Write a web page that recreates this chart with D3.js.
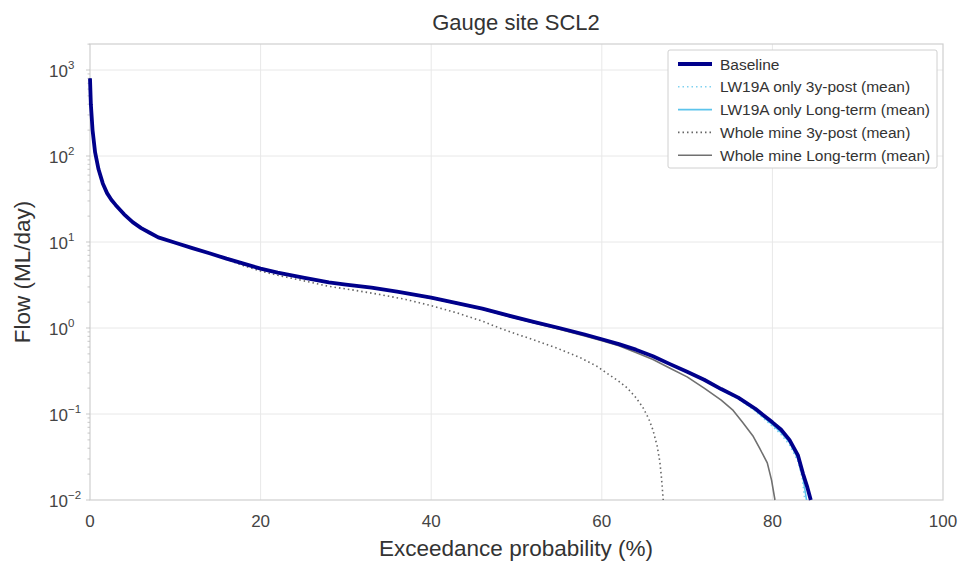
<!DOCTYPE html>
<html>
<head>
<meta charset="utf-8">
<script src="https://cdn.jsdelivr.net/npm/d3@7"></script>
<style>
    body { margin: 0; background: #fff; }
    svg { font-family: "Liberation Sans", Arial, sans-serif; }
</style>
</head>
<body>
<svg id="chart" width="963" height="562"></svg>
<script>
// exceedance probability (%) and flow (ML/day)
const baselinePct = [0, 0.1, 0.3, 0.6, 1.0, 1.5, 2.0, 2.5, 3.0, 4.0, 5.0, 6.0, 7.0, 8.0, 10, 12, 14, 16, 18, 20, 22, 25, 28, 30, 33, 36, 40, 43, 46, 49, 52, 55, 58, 60, 62, 64, 66, 68, 70, 72, 74, 76, 78, 80, 81, 82, 83, 83.6, 84.1, 84.5];
const baselineFlow = [800, 400, 200, 110, 70, 48, 37, 31, 27, 21, 17, 14.5, 12.8, 11.3, 9.8, 8.5, 7.4, 6.4, 5.6, 4.9, 4.4, 3.85, 3.4, 3.2, 2.95, 2.65, 2.25, 1.95, 1.68, 1.4, 1.18, 1.0, 0.84, 0.74, 0.65, 0.56, 0.47, 0.38, 0.31, 0.25, 0.195, 0.155, 0.115, 0.08, 0.066, 0.05, 0.033, 0.02, 0.014, 0.01];

const lw3yPct = [0, 0.1, 0.3, 0.6, 1.0, 1.5, 2.0, 2.5, 3.0, 4.0, 5.0, 6.0, 7.0, 8.0, 10, 12, 14, 16, 18, 20, 22, 25, 28, 30, 33, 36, 40, 43, 46, 49, 52, 55, 58, 60, 62, 64, 66, 68, 70, 72, 74, 76, 78, 80, 81, 82, 83, 83.5, 83.8];
const lw3yFlow = [800, 400, 200, 110, 70, 48, 37, 31, 27, 21, 17, 14.5, 12.8, 11.3, 9.8, 8.5, 7.4, 6.4, 5.6, 4.9, 4.4, 3.85, 3.4, 3.2, 2.95, 2.65, 2.25, 1.95, 1.68, 1.4, 1.18, 1.0, 0.84, 0.74, 0.65, 0.56, 0.47, 0.38, 0.31, 0.25, 0.19, 0.15, 0.108, 0.072, 0.058, 0.044, 0.028, 0.018, 0.01];

const lwLtPct = [0, 0.1, 0.3, 0.6, 1.0, 1.5, 2.0, 2.5, 3.0, 4.0, 5.0, 6.0, 7.0, 8.0, 10, 12, 14, 16, 18, 20, 22, 25, 28, 30, 33, 36, 40, 43, 46, 49, 52, 55, 58, 60, 62, 64, 66, 68, 70, 72, 74, 76, 78, 80, 81, 82, 83, 83.6, 84.0];
const lwLtFlow = [800, 400, 200, 110, 70, 48, 37, 31, 27, 21, 17, 14.5, 12.8, 11.3, 9.8, 8.5, 7.4, 6.4, 5.6, 4.9, 4.4, 3.85, 3.4, 3.2, 2.95, 2.65, 2.25, 1.95, 1.68, 1.4, 1.18, 1.0, 0.84, 0.74, 0.65, 0.56, 0.47, 0.38, 0.31, 0.25, 0.19, 0.152, 0.11, 0.075, 0.061, 0.047, 0.03, 0.018, 0.01];

const wm3yPct = [0, 0.1, 0.3, 0.6, 1.0, 1.5, 2.0, 2.5, 3.0, 4.0, 5.0, 6.0, 7.0, 8.0, 10, 12, 14, 16, 18, 20, 22, 25, 28, 31, 34, 37, 40, 43, 46, 48, 50, 52, 55, 57.5, 59.4, 61, 62, 63, 64, 64.8, 65.5, 66, 66.5, 66.8, 67.0, 67.2];
const wm3yFlow = [800, 400, 200, 110, 70, 48, 37, 31, 27, 21, 17, 14.5, 12.8, 11.3, 9.8, 8.5, 7.4, 6.3, 5.3, 4.6, 4.1, 3.55, 3.05, 2.75, 2.45, 2.15, 1.82, 1.5, 1.2, 1.0, 0.85, 0.73, 0.57, 0.45, 0.36, 0.28, 0.24, 0.2, 0.155, 0.12, 0.088, 0.065, 0.042, 0.028, 0.018, 0.01];

const wmLtPct = [0, 0.1, 0.3, 0.6, 1.0, 1.5, 2.0, 2.5, 3.0, 4.0, 5.0, 6.0, 7.0, 8.0, 10, 12, 14, 16, 18, 20, 22, 25, 28, 30, 33, 36, 40, 43, 46, 49, 52, 55, 58, 60, 62, 64, 66, 68, 70, 72, 74, 75.4, 76.5, 77.7, 78.5, 79.4, 79.9, 80.3];
const wmLtFlow = [800, 400, 200, 110, 70, 48, 37, 31, 27, 21, 17, 14.5, 12.8, 11.3, 9.8, 8.5, 7.4, 6.4, 5.6, 4.9, 4.4, 3.85, 3.4, 3.2, 2.93, 2.62, 2.22, 1.92, 1.65, 1.37, 1.15, 0.97, 0.81, 0.71, 0.62, 0.52, 0.43, 0.34, 0.27, 0.2, 0.145, 0.11, 0.08, 0.056, 0.04, 0.027, 0.017, 0.01];

const seriesNames = ["Baseline", "LW19A only 3y-post (mean)", "LW19A only Long-term (mean)", "Whole mine 3y-post (mean)", "Whole mine Long-term (mean)"];
const xTicks = [0, 20, 40, 60, 80, 100];
const yExponents = [-2, -1, 0, 1, 2, 3];

let series = [
    {name: seriesNames[1], pct: lw3yPct, flow: lw3yFlow, color: "#80d2f0", width: 1.6, dash: "1.5,3"},
    {name: seriesNames[2], pct: lwLtPct, flow: lwLtFlow, color: "#5cc4ec", width: 1.6, dash: null},
    {name: seriesNames[3], pct: wm3yPct, flow: wm3yFlow, color: "#666666", width: 1.6, dash: "1.5,3"},
    {name: seriesNames[4], pct: wmLtPct, flow: wmLtFlow, color: "#707070", width: 1.6, dash: null},
    {name: seriesNames[0], pct: baselinePct, flow: baselineFlow, color: "#00008b", width: 3.8, dash: null}
];

let svg = d3.select("#chart");
let plotLeft = 90, plotRight = 943, plotTop = 44, plotBottom = 500;

let xScale = d3.scaleLinear().domain([0, 100]).range([plotLeft, plotRight]);
let yScale = d3.scaleLog().domain([0.01, Math.pow(10, 3 + 26 / 86)]).range([plotBottom, plotTop]);

// grid
let grid = svg.append("g");
grid.selectAll("line.v").data(xTicks.slice(1, -1)).enter().append("line")
    .attr("x1", d => xScale(d)).attr("x2", d => xScale(d))
    .attr("y1", plotTop).attr("y2", plotBottom)
    .attr("stroke", "#e8e8e8").attr("stroke-width", 1);
grid.selectAll("line.h").data(yExponents.slice(1)).enter().append("line")
    .attr("x1", plotLeft).attr("x2", plotRight)
    .attr("y1", d => yScale(Math.pow(10, d))).attr("y2", d => yScale(Math.pow(10, d)))
    .attr("stroke", "#e8e8e8").attr("stroke-width", 1);

// frame
svg.append("rect")
    .attr("x", plotLeft).attr("y", plotTop)
    .attr("width", plotRight - plotLeft).attr("height", plotBottom - plotTop)
    .attr("fill", "none").attr("stroke", "#cfcfcf").attr("stroke-width", 1.2);

// minor ticks on the log axis
let minor = [];
for (let e = -2; e <= 3; e++) {
    for (let m = 1; m <= 9; m++) {
        let v = m * Math.pow(10, e);
        if (v <= yScale.domain()[1]) minor.push({v: v, major: m === 1});
    }
}
svg.append("g").selectAll("line").data(minor).enter().append("line")
    .attr("x1", d => plotLeft - (d.major ? 4 : 2.5)).attr("x2", plotLeft)
    .attr("y1", d => yScale(d.v)).attr("y2", d => yScale(d.v))
    .attr("stroke", "#bbbbbb").attr("stroke-width", 0.8);

// x tick labels
svg.append("g").selectAll("text").data(xTicks).enter().append("text")
    .attr("x", d => xScale(d)).attr("y", 527)
    .attr("text-anchor", "middle")
    .attr("font-size", 17).attr("fill", "#444")
    .text(d => d);

// y tick labels 10^n
let yLab = svg.append("g").selectAll("text").data(yExponents).enter().append("text")
    .attr("x", 49).attr("y", d => yScale(Math.pow(10, d)) + 7)
    .attr("font-size", 17).attr("fill", "#444");
yLab.append("tspan").text("10");
yLab.append("tspan").attr("dy", -8).attr("font-size", 11.5)
    .text(d => d < 0 ? "\u2212" + Math.abs(d) : String(d));

// lines
let line = d3.line()
    .x(d => xScale(d[0]))
    .y(d => yScale(d[1]));

series.forEach(s => {
    let pts = s.pct.map((p, i) => [p, s.flow[i]]);
    svg.append("path")
        .datum(pts)
        .attr("d", line)
        .attr("fill", "none")
        .attr("stroke", s.color)
        .attr("stroke-width", s.width)
        .attr("stroke-dasharray", s.dash)
        .attr("stroke-linejoin", "round");
});

// titles
svg.append("text").attr("x", 516).attr("y", 30)
    .attr("text-anchor", "middle").attr("font-size", 22).attr("fill", "#333")
    .text("Gauge site SCL2");
svg.append("text").attr("x", 516).attr("y", 556)
    .attr("text-anchor", "middle").attr("font-size", 22.5).attr("fill", "#333")
    .text("Exceedance probability (%)");
svg.append("text").attr("transform", "translate(30," + ((plotTop + plotBottom) / 2) + ") rotate(-90)")
    .attr("text-anchor", "middle").attr("font-size", 22.5).attr("fill", "#333")
    .text("Flow (ML/day)");

// legend
let legendOrder = [series[4], series[0], series[1], series[2], series[3]];
let legend = svg.append("g");
legend.append("rect")
    .attr("x", 668).attr("y", 50).attr("width", 269).attr("height", 118)
    .attr("rx", 2).attr("fill", "#fff").attr("stroke", "#d0d0d0").attr("stroke-width", 1);
let rows = legend.selectAll("g.row").data(legendOrder).enter().append("g")
    .attr("transform", (d, i) => "translate(0," + (64 + i * 22.8) + ")");
rows.append("line")
    .attr("x1", 678).attr("x2", 712).attr("y1", 0).attr("y2", 0)
    .attr("stroke", d => d.color)
    .attr("stroke-width", d => d.width)
    .attr("stroke-dasharray", d => d.dash);
rows.append("text")
    .attr("x", 720).attr("y", 5.5)
    .attr("font-size", 15.5).attr("fill", "#333")
    .text(d => d.name);
</script>
</body>
</html>
